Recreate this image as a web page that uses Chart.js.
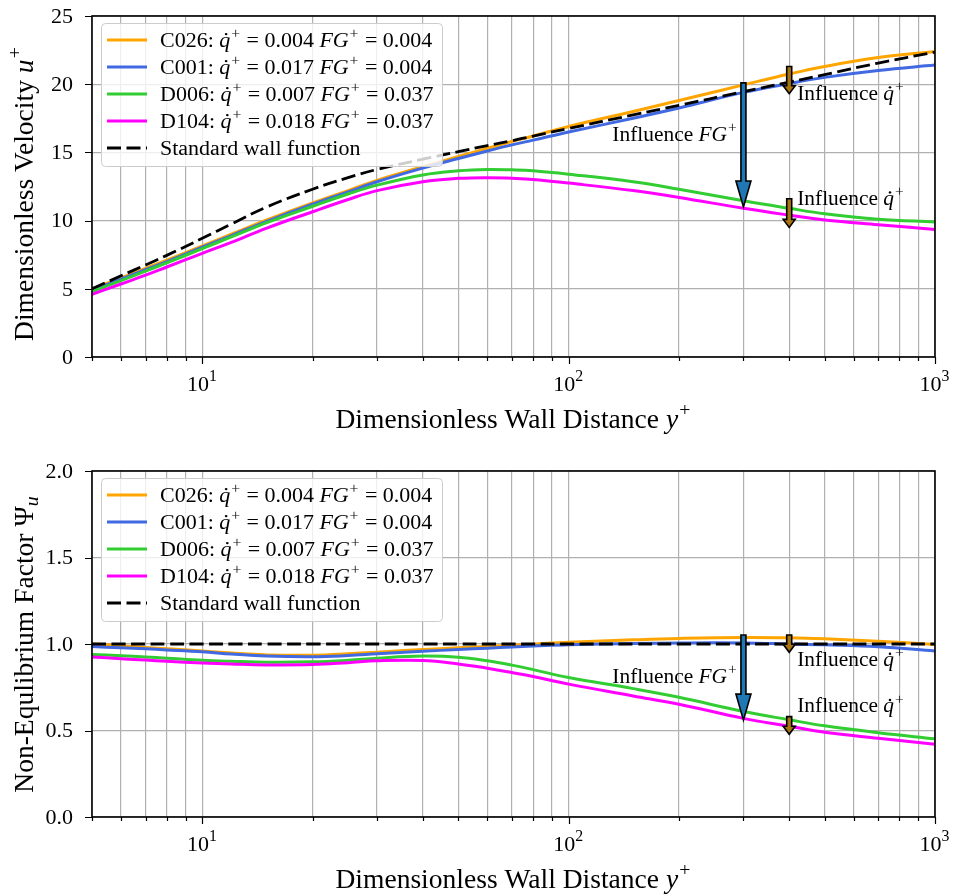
<!DOCTYPE html>
<html><head><meta charset="utf-8">
<script src="https://cdn.jsdelivr.net/npm/chart.js@4.4.1/dist/chart.umd.min.js"></script>
<style>
html,body{margin:0;padding:0;background:#fff;}
canvas{display:block;}
</style></head><body>
<canvas id="c1" width="956" height="448"></canvas>
<canvas id="c2" width="956" height="448"></canvas>
<script>
// ---------------- DATA ----------------
const yPlus = [5, 6, 7, 8, 10, 12, 15, 20, 25, 30, 40, 50, 60, 70, 80, 100, 150, 200, 300, 400, 500, 700, 1000];

const seriesLabels = [
  'C026: $\\dot{q}^+$ = 0.004 $FG^+$ = 0.004',
  'C001: $\\dot{q}^+$ = 0.017 $FG^+$ = 0.004',
  'D006: $\\dot{q}^+$ = 0.007 $FG^+$ = 0.037',
  'D104: $\\dot{q}^+$ = 0.018 $FG^+$ = 0.037',
  'Standard wall function'
];
const seriesColors = ['#FFA500', '#4169E1', '#32CD32', '#FF00FF', '#000000'];

// top panel: dimensionless velocity u+
const uC026 = [5.0, 5.8, 6.5, 7.1, 8.15, 9.0, 10.05, 11.3, 12.2, 12.95, 13.95, 14.7, 15.3, 15.8, 16.2, 16.9, 18.0, 18.8, 19.95, 20.75, 21.3, 21.95, 22.4];
const uC001 = [4.9, 5.7, 6.4, 7.0, 8.05, 8.9, 9.95, 11.2, 12.1, 12.85, 13.85, 14.55, 15.1, 15.55, 15.9, 16.5, 17.5, 18.25, 19.4, 20.05, 20.5, 21.0, 21.4];
const uD006 = [4.8, 5.6, 6.3, 6.9, 7.95, 8.8, 9.85, 11.05, 11.95, 12.6, 13.35, 13.65, 13.75, 13.72, 13.65, 13.4, 12.85, 12.3, 11.45, 10.9, 10.5, 10.1, 9.9];
const uD104 = [4.6, 5.35, 6.0, 6.6, 7.6, 8.4, 9.45, 10.65, 11.55, 12.2, 12.85, 13.1, 13.15, 13.1, 13.02, 12.75, 12.2, 11.7, 10.9, 10.4, 10.05, 9.7, 9.35];
const uSWF  = [5.0, 5.95, 6.75, 7.45, 8.7, 9.75, 11.0, 12.3, 13.15, 13.75, 14.5, 15.05, 15.5, 15.85, 16.2, 16.75, 17.75, 18.45, 19.45, 20.15, 20.7, 21.55, 22.35];

// bottom panel: non-equilibrium factor Psi_u
const psiC026 = [1.0, 0.99, 0.98, 0.972, 0.96, 0.948, 0.937, 0.935, 0.943, 0.953, 0.968, 0.978, 0.986, 0.993, 0.999, 1.01, 1.024, 1.032, 1.038, 1.036, 1.03, 1.016, 0.997];
const psiC001 = [0.985, 0.978, 0.972, 0.966, 0.955, 0.942, 0.93, 0.926, 0.933, 0.943, 0.958, 0.968, 0.976, 0.983, 0.988, 0.996, 1.003, 1.006, 1.006, 1.0, 0.995, 0.984, 0.96];
const psiD006 = [0.94, 0.932, 0.925, 0.918, 0.906, 0.9, 0.895, 0.897, 0.906, 0.918, 0.93, 0.924, 0.903, 0.878, 0.852, 0.806, 0.742, 0.692, 0.61, 0.562, 0.527, 0.487, 0.452];
const psiD104 = [0.925, 0.915, 0.907, 0.9, 0.89, 0.884, 0.879, 0.881, 0.892, 0.903, 0.905, 0.885, 0.86, 0.835, 0.812, 0.768, 0.7, 0.652, 0.57, 0.525, 0.49, 0.455, 0.42];
const psiSWF  = [1.0, 1.0, 1.0, 1.0, 1.0, 1.0, 1.0, 1.0, 1.0, 1.0, 1.0, 1.0, 1.0, 1.0, 1.0, 1.0, 1.0, 1.0, 1.0, 1.0, 1.0, 1.0, 1.0];

const xGridTicks = [5, 6, 7, 8, 9, 10, 20, 30, 40, 50, 60, 70, 80, 90, 100, 200, 300, 400, 500, 600, 700, 800, 900, 1000];
const xMajorTicks = [10, 100, 1000];
const xTickLabels = ['$10^1$', '$10^2$', '$10^3$'];
const yTicksTop = [0, 5, 10, 15, 20, 25];
const yTickLabelsTop = ['0', '5', '10', '15', '20', '25'];
const yTicksBottom = [0.0, 0.5, 1.0, 1.5, 2.0];
const yTickLabelsBottom = ['0.0', '0.5', '1.0', '1.5', '2.0'];

const xTitle = 'Dimensionless Wall Distance $y^+$';
const yTitleTop = 'Dimensionless Velocity $u^+$';
const yTitleBottom = 'Non-Equlibrium Factor $\\Psi_u$';

// annotations (data coordinates)
const arrowsTop = [
  {x: 300, from: 20.1, to: 11.0, big: true},
  {x: 400, from: 21.3, to: 19.3, big: false},
  {x: 400, from: 11.6, to: 9.5, big: false}
];
const notesTop = [
  {text: 'Influence $FG^+$', x: 300, y: 16.3, side: 'left'},
  {text: 'Influence $\\dot{q}^+$', x: 400, y: 19.3, side: 'right'},
  {text: 'Influence $\\dot{q}^+$', x: 400, y: 11.6, side: 'right'}
];
const arrowsBottom = [
  {x: 300, from: 1.052, to: 0.56, big: true},
  {x: 400, from: 1.052, to: 0.952, big: false},
  {x: 400, from: 0.58, to: 0.478, big: false}
];
const notesBottom = [
  {text: 'Influence $FG^+$', x: 300, y: 0.812, side: 'left'},
  {text: 'Influence $\\dot{q}^+$', x: 400, y: 0.907, side: 'right'},
  {text: 'Influence $\\dot{q}^+$', x: 400, y: 0.639, side: 'right'}
];

// ---------------- RICH TEXT ----------------
const FONT = "'Liberation Serif', 'Times New Roman', serif";
function parseRich(str) {
  const segs = [];
  let math = false;
  const push = (t, st) => {
    const last = segs[segs.length - 1];
    const s = {t, it: !!st.it, sup: !!st.sup, sub: !!st.sub, dot: !!st.dot};
    if (last && !s.dot && !last.dot && last.it === s.it && last.sup === s.sup && last.sub === s.sub) last.t += t;
    else segs.push(s);
  };
  let i = 0;
  while (i < str.length) {
    const c = str[i];
    if (c === '$') { math = !math; i++; continue; }
    if (!math) { push(c, {}); i++; continue; }
    if (c === ' ') { i++; continue; }
    if (c === '^' || c === '_') {
      let g;
      if (str[i + 1] === '{') { const j = str.indexOf('}', i + 2); g = str.slice(i + 2, j); i = j + 1; }
      else { g = str[i + 1]; i += 2; }
      for (const ch of g) push(ch, {it: /[A-Za-z]/.test(ch), sup: c === '^', sub: c === '_'});
      continue;
    }
    if (str.startsWith('\\dot{', i)) { const j = str.indexOf('}', i); push(str.slice(i + 5, j), {it: true, dot: true}); i = j + 1; continue; }
    if (str.startsWith('\\Psi', i)) { push('\u03A8', {}); i += 4; continue; }
    push(c, {it: /[A-Za-z]/.test(c)});
    i++;
  }
  return segs;
}
function segFont(s, size) {
  const sz = (s.sup || s.sub) ? size * 0.72 : size;
  return (s.it ? 'italic ' : '') + sz.toFixed(2) + 'px ' + FONT;
}
function segAdv(ctx, s, size) {
  ctx.font = segFont(s, size);
  return ctx.measureText(s.t).width + (s.it && !s.sup && !s.sub ? size * 0.04 : 0) + (s.sup || s.sub ? size * 0.04 : 0);
}
function drawRich(ctx, str, x, y, size, align, sx) {
  sx = sx || 1;
  const segs = parseRich(str);
  ctx.save();
  ctx.translate(x, y);
  ctx.scale(sx, 1);
  let w = 0;
  for (const s of segs) w += segAdv(ctx, s, size);
  let cx = align === 'center' ? -w / 2 : align === 'right' ? -w : 0;
  ctx.textBaseline = 'alphabetic';
  ctx.textAlign = 'left';
  ctx.fillStyle = '#000';
  for (const s of segs) {
    ctx.font = segFont(s, size);
    const dy = s.sup ? -size * 0.44 : s.sub ? size * 0.2 : 0;
    const tw = ctx.measureText(s.t).width;
    ctx.fillText(s.t, cx, dy);
    if (s.dot) {
      ctx.beginPath();
      ctx.arc(cx + tw * 0.62, dy - size * 0.62, size * 0.06, 0, Math.PI * 2);
      ctx.fill();
    }
    cx += segAdv(ctx, s, size);
  }
  ctx.restore();
  return w * sx;
}

// ---------------- DRAW HELPERS ----------------
function drawArrow(ctx, x, y0, y1, big) {
  const sw = 5;
  const hw = big ? 15 : 12;
  const hl = big ? 26 : 8;
  const ys = y1 - hl;
  ctx.save();
  ctx.beginPath();
  ctx.moveTo(x - sw / 2, y0);
  ctx.lineTo(x + sw / 2, y0);
  ctx.lineTo(x + sw / 2, ys);
  ctx.lineTo(x + hw / 2, ys);
  ctx.lineTo(x, y1);
  ctx.lineTo(x - hw / 2, ys);
  ctx.lineTo(x - sw / 2, ys);
  ctx.closePath();
  ctx.fillStyle = big ? '#1f77b4' : '#a8740f';
  ctx.fill();
  ctx.lineWidth = 1.6;
  ctx.lineJoin = 'miter';
  ctx.strokeStyle = '#000';
  ctx.stroke();
  ctx.restore();
}

function makeDecor(cfg) {
  return {
    id: 'decor',
    afterDraw(chart) {
      const ctx = chart.ctx;
      const a = chart.chartArea;
      const xs = chart.scales.x, ys = chart.scales.y;
      // spines
      ctx.save();
      ctx.strokeStyle = '#000';
      ctx.lineWidth = 1.6;
      ctx.strokeRect(a.left, a.top, a.right - a.left, a.bottom - a.top);
      // ticks
      ctx.lineWidth = 1.2;
      ctx.beginPath();
      for (const v of xGridTicks) {
        const px = Math.round(xs.getPixelForValue(v)) + 0.5;
        const major = xMajorTicks.includes(v);
        ctx.moveTo(px, a.bottom);
        ctx.lineTo(px, a.bottom + (major ? 7 : 4));
      }
      for (const v of cfg.yTicks) {
        const py = Math.round(ys.getPixelForValue(v)) + 0.5;
        ctx.moveTo(a.left - 7, py);
        ctx.lineTo(a.left, py);
      }
      ctx.stroke();
      // y tick labels
      ctx.fillStyle = '#000';
      ctx.font = '22px ' + FONT;
      ctx.textAlign = 'right';
      ctx.textBaseline = 'middle';
      cfg.yTicks.forEach((v, i) => {
        ctx.fillText(cfg.yLabels[i], a.left - 19, ys.getPixelForValue(v) + 1);
      });
      ctx.restore();
      // x tick labels
      xMajorTicks.forEach((v, i) => {
        drawRich(ctx, xTickLabels[i], xs.getPixelForValue(v), a.bottom + 34, 22, 'center');
      });
      // axis titles
      drawRich(ctx, xTitle, (a.left + a.right) / 2, a.bottom + 71, 27, 'center', 1.02);
      ctx.save();
      ctx.translate(33, (a.top + a.bottom) / 2 + cfg.yTitleShift);
      ctx.rotate(-Math.PI / 2);
      drawRich(ctx, cfg.yTitle, 0, 0, 27, 'center', 1.02);
      ctx.restore();
      // arrows
      for (const ar of cfg.arrows) {
        drawArrow(ctx, xs.getPixelForValue(ar.x), ys.getPixelForValue(ar.from), ys.getPixelForValue(ar.to), ar.big);
      }
      for (const n of cfg.notes) {
        const px = xs.getPixelForValue(n.x);
        const py = ys.getPixelForValue(n.y) + 6;
        if (n.side === 'left') drawRich(ctx, n.text, px - 6, py, 20, 'right', 1.07);
        else drawRich(ctx, n.text, px + 8, py, 20, 'left', 1.07);
      }
      // legend
      const lx = a.left + 9, ly = a.top + 7, lw = 341, lh = 143;
      ctx.save();
      ctx.beginPath();
      ctx.roundRect(lx + 0.5, ly + 0.5, lw, lh, 4);
      ctx.fillStyle = 'rgba(255,255,255,0.8)';
      ctx.fill();
      ctx.strokeStyle = '#cccccc';
      ctx.lineWidth = 1;
      ctx.stroke();
      ctx.restore();
      chart.data.datasets.forEach((ds, i) => {
        const cy = ly + 17 + 27 * i;
        ctx.save();
        ctx.strokeStyle = ds.borderColor;
        ctx.lineWidth = ds.borderWidth;
        ctx.setLineDash(ds.borderDash || []);
        ctx.beginPath();
        ctx.moveTo(lx + 6, cy);
        ctx.lineTo(lx + 46, cy);
        ctx.stroke();
        ctx.restore();
        drawRich(ctx, ds.label, lx + 59, cy + 6.5, 20, 'left', 1.1);
      });
    }
  };
}

function makeChart(id, series, yMin, yMax, yTicks, yLabels, yTitle, yTitleShift, arrows, notes, padTop, xHeight) {
  const datasets = series.map((vals, i) => ({
    label: seriesLabels[i],
    data: yPlus.map((x, j) => ({x: x, y: vals[j]})),
    borderColor: seriesColors[i],
    borderWidth: i === 4 ? 2.8 : 3,
    borderDash: i === 4 ? [14, 5.5] : [],
    pointRadius: 0,
    fill: false,
    tension: 0.4,
    order: 5 - i
  }));
  return new Chart(document.getElementById(id), {
    type: 'line',
    data: {datasets},
    options: {
      responsive: false,
      animation: false,
      devicePixelRatio: 1,
      layout: {padding: {left: 0, right: 21, top: padTop, bottom: 0}},
      plugins: {legend: {display: false}, tooltip: {enabled: false}},
      scales: {
        x: {
          type: 'logarithmic', min: 5, max: 1000,
          grid: {color: '#b0b0b0', lineWidth: 1.2, drawTicks: false},
          border: {display: false},
          ticks: {display: false},
          afterBuildTicks: s => { s.ticks = xGridTicks.map(v => ({value: v})); },
          afterFit: s => { s.height = xHeight; }
        },
        y: {
          type: 'linear', min: yMin, max: yMax,
          grid: {color: '#b0b0b0', lineWidth: 1.2, drawTicks: false},
          border: {display: false},
          ticks: {display: false},
          afterBuildTicks: s => { s.ticks = yTicks.map(v => ({value: v})); },
          afterFit: s => { s.width = 92; }
        }
      }
    },
    plugins: [makeDecor({yTicks, yLabels, yTitle, yTitleShift, arrows, notes})]
  });
}

makeChart('c1', [uC026, uC001, uD006, uD104, uSWF], 0, 25, yTicksTop, yTickLabelsTop, yTitleTop, 7, arrowsTop, notesTop, 16, 91);
makeChart('c2', [psiC026, psiC001, psiD006, psiD104, psiSWF], 0, 2, yTicksBottom, yTickLabelsBottom, yTitleBottom, 0, arrowsBottom, notesBottom, 23, 79);
</script>
</body></html>
